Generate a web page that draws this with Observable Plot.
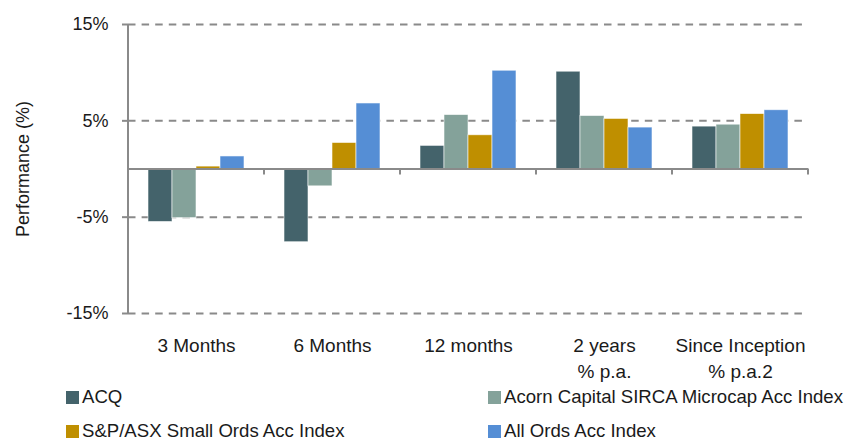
<!DOCTYPE html>
<html>
<head>
<meta charset="utf-8">
<script src="https://cdn.jsdelivr.net/npm/d3@7"></script>
<script src="https://cdn.jsdelivr.net/npm/@observablehq/plot@0.6"></script>
<style>
  html, body { margin: 0; padding: 0; background: #fff; }
  body { position: relative; width: 850px; height: 439px; overflow: hidden; font-family: "Liberation Sans", Arial, sans-serif; color: #1a1a1a; }
  #chart svg { display: block; }
  #legend { position: absolute; left: 0; top: 380px; display: grid; grid-template-columns: 422px 362px; padding-left: 66px; }
  .item { height: 34px; display: flex; align-items: center; font-size: 18.6px; line-height: 1; white-space: nowrap; }
  .sw { width: 13px; height: 13px; margin-right: 3px; flex: none; }
</style>
</head>
<body>
<div id="chart"></div>
<div id="legend"></div>
<script>
const categories = ["3 Months", "6 Months", "12 months", "2 years\n% p.a.", "Since Inception\n% p.a.2"];
const series = ["ACQ", "Acorn Capital SIRCA Microcap Acc Index", "S&P/ASX Small Ords Acc Index", "All Ords Acc Index"];
const colors = ["#44636b", "#84a29a", "#bf8f00", "#558ed5"];
const acq = [-5.5, -7.6, 2.4, 10.1, 4.4];
const acorn = [-5.1, -1.8, 5.6, 5.5, 4.6];
const smallOrds = [0.25, 2.7, 3.5, 5.2, 5.7];
const allOrds = [1.3, 6.8, 10.2, 4.3, 6.1];
const yTicks = [15, 5, -5, -15];

const valuesBySeries = [acq, acorn, smallOrds, allOrds];
const rows = [];
categories.forEach((c, i) => series.forEach((s, j) => rows.push({category: c, series: s, value: valuesBySeries[j][i]})));

const grey = "#8a8a8a";
const plot = Plot.plot({
  width: 850,
  height: 386,
  marginLeft: 127,
  marginRight: 42,
  marginTop: 24,
  marginBottom: 73,
  style: {fontFamily: "'Liberation Sans', Arial, sans-serif", fontSize: "19px", color: "#1a1a1a", background: "#fff"},
  fx: {domain: categories, paddingInner: 0, paddingOuter: 0, axis: null, label: null},
  x: {domain: series, paddingInner: 0, paddingOuter: 0.77, axis: null, label: null},
  y: {domain: [-15, 15], ticks: yTicks, axis: null},
  color: {domain: series, range: colors},
  marks: [
    Plot.ruleY(yTicks, {stroke: grey, strokeWidth: 2, strokeDasharray: "7.5,6.1"}),
    Plot.barY(rows, {fx: "category", x: "series", y: "value", fill: "series", stroke: "#fff", strokeWidth: 0.8, strokeOpacity: 0.7}),
    Plot.ruleY([0], {stroke: grey, strokeWidth: 2}),
    Plot.axisY(yTicks, {anchor: "left", tickSize: 6, tickPadding: 14, stroke: grey, strokeWidth: 2, fontSize: 18, tickFormat: d => d + "%", label: "Performance (%)", labelAnchor: "center", labelArrow: "none", labelOffset: 112}),
    Plot.axisFx({anchor: "bottom", tickSize: 0, tickPadding: 20, lineHeight: 1.36, label: null, fontSize: 19})
  ]
});

// left axis line and category boundary ticks, positioned via the plot's own scales
const fxS = plot.scale("fx");
const yS = plot.scale("y");
const g = d3.select(plot).append("g").attr("stroke", grey).attr("stroke-width", 2);
const x0 = fxS.apply(categories[0]);
g.append("line").attr("x1", x0).attr("x2", x0).attr("y1", yS.apply(15)).attr("y2", yS.apply(-15));
const bounds = categories.map(c => fxS.apply(c)).concat([fxS.apply(categories[categories.length - 1]) + fxS.bandwidth]);
bounds.forEach(b => g.append("line").attr("x1", b).attr("x2", b).attr("y1", yS.apply(0)).attr("y2", yS.apply(0) + 6));

document.getElementById("chart").appendChild(plot);

const legend = document.getElementById("legend");
series.forEach((s, i) => {
  const it = document.createElement("div");
  it.className = "item";
  const sw = document.createElement("span");
  sw.className = "sw";
  sw.style.background = colors[i];
  it.appendChild(sw);
  it.appendChild(document.createTextNode(s));
  legend.appendChild(it);
});
</script>
</body>
</html>
